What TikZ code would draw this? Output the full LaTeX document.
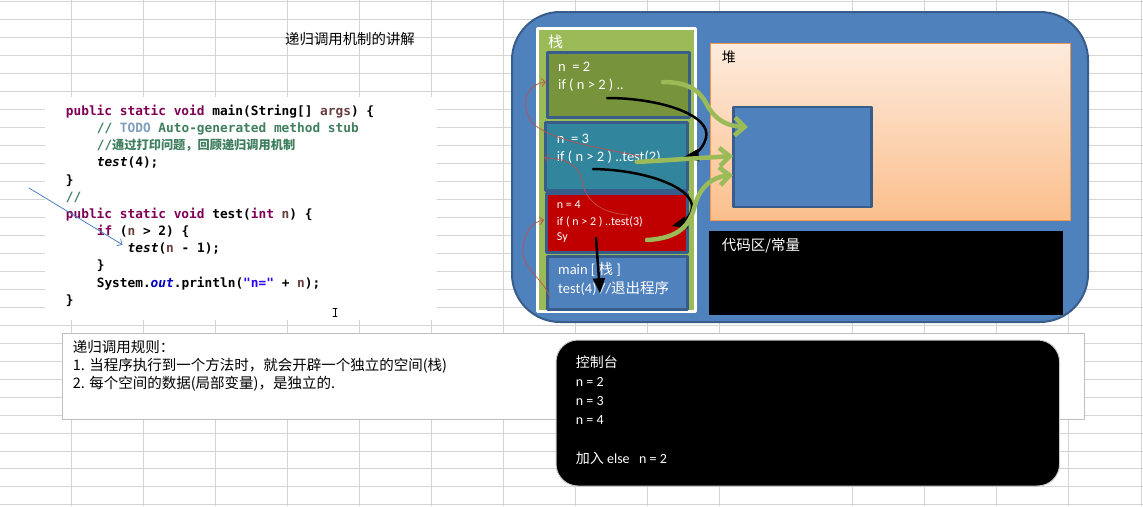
\documentclass[tikz,border=0pt]{standalone}
\usepackage{fontspec}
\setmainfont{Carlito}
\setmonofont{DejaVu Sans Mono}
\newfontfamily\cjk{Noto Sans CJK SC}
\usetikzlibrary{arrows}
\usetikzlibrary{arrows.meta}
\definecolor{gridcol}{HTML}{D4D4D4}
\definecolor{kwcol}{HTML}{7F0055}
\definecolor{varcol}{HTML}{6A3E3E}
\definecolor{cmtcol}{HTML}{3F7F5F}
\definecolor{todocol}{HTML}{7F9FBF}
\definecolor{outcol}{HTML}{0000C0}
\definecolor{strcol}{HTML}{2A00FF}
\definecolor{memblue}{HTML}{4F81BD}
\definecolor{edgecol}{HTML}{385D8A}
\definecolor{stackgreen}{HTML}{9BBB59}
\definecolor{olivebox}{HTML}{77933C}
\definecolor{tealbox}{HTML}{31859C}
\definecolor{redbox}{HTML}{C00000}
\definecolor{heaptop}{HTML}{FDEBDD}
\definecolor{heapbot}{HTML}{FBBF8C}
\definecolor{heapedge}{HTML}{F79646}
\definecolor{redline}{HTML}{C0504D}
\newcommand{\kwd}[1]{\textcolor{kwcol}{#1}}
\newcommand{\varn}[1]{\textcolor{varcol}{#1}}
\newcommand{\cmt}[1]{\textcolor{cmtcol}{#1}}

\begin{document}
\begin{tikzpicture}[line cap=round,line join=round,>=triangle 45,x=1pt,y=-1pt,
  txt/.style={anchor=base west,inner sep=0pt},
  javaline/.style={txt,font=\ttfamily\bfseries\fontsize{12.8}{15}\selectfont},
  zhtxt/.style={txt,font=\cjk\fontsize{14.5}{17}\selectfont},
  stacktxt/.style={txt,text=white,font=\fontsize{14.5}{17}\selectfont},
  stackframe/.style={draw=edgecol,line width=3pt},
  redarrow/.style={draw=redline,line width=0.7pt,-{Straight Barb[length=4pt,width=8pt]}},
  blackarrow/.style={line width=2.5pt,->},
  greenarrow/.style={draw=stackgreen,line width=4.5pt,-{Straight Barb[length=10pt,width=18pt]}}]
\useasboundingbox (0,0) rectangle (1143,506);

%taulukon ruudukko
\foreach \k in {0,...,28}
{\draw[gridcol,line width=0.9pt] (0,{1.7+17.97*\k}) -- (1143,{1.7+17.97*\k});
}
\foreach \x in {71.5,143.5,215.5,287.5,359.5,431.5,503.5,575.5,647.5,719.5,852.5,924.5,996.5,1068.5,1141}
{\draw[gridcol,line width=0.9pt] (\x,0) -- (\x,506);
}

\node[zhtxt,font=\cjk\fontsize{14.4}{17}\selectfont] (title) at (285,44.3) {递归调用机制的讲解};

%koodi
\fill[white] (45,97) rectangle (437,320);
\node[javaline] (cl1) at (65.7,115.5) {\kwd{public static void} main(String[] \varn{args}) \{};
\node[javaline] (cl2) at (96.6,132.65) {\cmt{// \textcolor{todocol}{TODO} Auto-generated method stub}};
\node[javaline] (cl3) at (96.6,149.8) {\cmt{//{\cjk\fontsize{12.2}{14}\selectfont 通过打印问题，回顾递归调用机制}}};
\node[javaline] (cl4) at (96.6,166.95) {\textit{test}(4);};
\node[javaline] (cl5) at (65.7,184.1) {\}};
\node[javaline] (cl6) at (65.7,201.25) {\cmt{//}};
\node[javaline] (cl7) at (65.7,218.4) {\kwd{public static void} test(\kwd{int} \varn{n}) \{};
\node[javaline] (cl8) at (96.6,235.55) {\kwd{if} (\varn{n} > 2) \{};
\node[javaline] (cl9) at (127.5,252.7) {\textit{test}(\varn{n} - 1);};
\node[javaline] (cl10) at (96.6,269.85) {\}};
\node[javaline] (cl11) at (96.6,287) {System.\textit{\textcolor{outcol}{out}}.println(\textcolor{strcol}{"n="} + \varn{n});};
\node[javaline] (cl12) at (65.7,304.15) {\}};
\coordinate (pointer) at (29,188);
\draw[memblue,line width=0.8pt,-{Straight Barb[length=4pt,width=8pt]}] (pointer) -- ([shift={(-5,-4)}]cl9.west);
\draw[line width=0.7pt] (335,308.5) -- (335,316.5);
\draw[line width=0.7pt] (333,308.5) -- (337,308.5) (333,316.5) -- (337,316.5);

%muistialue
\draw[draw=edgecol,line width=2pt,fill=memblue,rounded corners=48pt] (512,12) rectangle (1088,322);

%pino
\draw[white,line width=3.5pt,fill=stackgreen] (537.5,28.5) rectangle (695.5,311.5);
\node[txt,text=white,font=\cjk\fontsize{15}{17}\selectfont] (stack) at (548,47) {栈};
\draw[stackframe,fill=olivebox] (547,52) rectangle (689,117);
\draw[stackframe,fill=tealbox] (545,122) rectangle (687,190);
\draw[stackframe,fill=redbox] (546.5,193) rectangle (687,252);
\draw[stackframe,fill=memblue] (547,256) rectangle (687,309);
\node[stacktxt] (n2a) at (558,71.5) {n~ = 2};
\node[stacktxt] (n2b) at (558,89.5) {if ( n > 2 ) ..};
\node[stacktxt] (n3a) at (556.7,143) {n~ = 3};
\node[stacktxt] (n3b) at (556.7,161.5) {if ( n > 2 ) ..test(2)};
\node[stacktxt,font=\fontsize{12}{14}\selectfont] (n4a) at (556.7,208.5) {n = 4};
\node[stacktxt,font=\fontsize{12}{14}\selectfont] (n4b) at (556.7,225.2) {if ( n > 2 ) ..test(3)};
\node[stacktxt,font=\fontsize{12}{14}\selectfont] (n4c) at (556.7,240) {Sy};
\node[stacktxt] (mainA) at (558,274) {main [ {\cjk 栈} ]};
\node[stacktxt] (mainB) at (558,293.5) {test(4) //{\cjk 退出程序}};

%keko ja koodialue
\draw[draw=heapedge,line width=1pt,top color=heaptop,bottom color=heapbot] (710,43.3) rectangle (1070.7,220.7);
\node[zhtxt,font=\cjk\fontsize{14}{17}\selectfont] (heap) at (721.7,62) {堆};
\draw[draw=edgecol,line width=2.5pt,fill=memblue] (733.5,107) rectangle (871.5,207);
\coordinate (objA) at (748,127);
\coordinate (objB) at (733,156);
\coordinate (objC) at (733,175);
\fill[black] (709,231) rectangle (1062.7,315);
\node[zhtxt,text=white] (constarea) at (721.7,250.5) {代码区/常量};

%kutsunuolet
\coordinate (r1s) at (550,298);
\coordinate (r1e) at (544,220);
\coordinate (r2s) at (628,215);
\coordinate (r2e) at (544,158);
\coordinate (r3s) at (640,156);
\coordinate (r3e) at (546,82);
\draw[redarrow] (r1s) .. controls (545,280) and (521,268) .. (523,250) .. controls (524,232) and (532,222) .. (r1e);
\draw[redarrow] (r2s) .. controls (600,213) and (585,200) .. (582,180) .. controls (579,165) and (565,158) .. (r2e);
\draw[redarrow] (r3s) .. controls (600,148) and (545,140) .. (530,120) .. controls (520,100) and (528,84) .. (r3e);

%paluunuolet
\coordinate (b1s) at (607,98);
\coordinate (b1e) at (684,157);
\coordinate (b2s) at (593,169);
\coordinate (b2e) at (672,226);
\coordinate (b3s) at (596,238);
\coordinate (b3e) at (600,293);
\draw[blackarrow] (b1s) .. controls (660,98) and (712,115) .. (706,138) .. controls (702,152) and (692,156) .. (b1e);
\draw[blackarrow] (b2s) .. controls (650,170) and (700,190) .. (691,212) .. controls (688,220) and (680,224) .. (b2e);
\draw[blackarrow] (b3s) -- (b3e);

%viittaukset kekoon
\coordinate (g1s) at (663,82);
\coordinate (g2s) at (637,162);
\coordinate (g3s) at (647,240);
\draw[greenarrow] (g1s) .. controls (690,82) and (700,92) .. (706,103) .. controls (712,115) and (722,126) .. (objA);
\draw[greenarrow] (g2s) -- (objB);
\draw[greenarrow] (g3s) .. controls (680,238) and (690,225) .. (695,205) .. controls (700,187) and (712,177) .. (objC);

%säännöt
\draw[draw=gray!50,fill=white,line width=1pt] (62.7,333.3) rectangle (1084.3,419.3);
\node[zhtxt] (rule0) at (72.7,352) {递归调用规则：};
\node[zhtxt] (rule1) at (72.7,370.3) {1. 当程序执行到一个方法时，就会开辟一个独立的空间(栈)};
\node[zhtxt] (rule2) at (72.7,388.6) {2. 每个空间的数据(局部变量)，是独立的.};

%konsoli
\draw[draw=gray!40,fill=black,line width=1pt,rounded corners=22pt] (556,340) rectangle (1059.6,486);
\node[zhtxt,text=white,font=\cjk\fontsize{14}{17}\selectfont] (console) at (575.7,367) {控制台};
\node[stacktxt,font=\fontsize{14}{17}\selectfont] (out1) at (575.7,386) {n = 2};
\node[stacktxt,font=\fontsize{14}{17}\selectfont] (out2) at (575.7,405.3) {n = 3};
\node[stacktxt,font=\fontsize{14}{17}\selectfont] (out3) at (575.7,424.3) {n = 4};
\node[stacktxt,font=\fontsize{14}{17}\selectfont] (out4) at (575.7,463) {{\cjk 加入} else~~ n = 2};
\end{tikzpicture}
\end{document}
